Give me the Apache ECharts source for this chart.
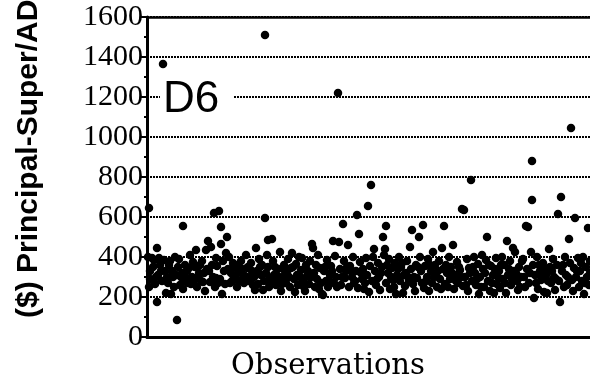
<!DOCTYPE html>
<html>
<head>
<meta charset="utf-8">
<script src="https://cdn.jsdelivr.net/npm/echarts@6/dist/echarts.min.js"></script>
<style>html,body{margin:0;padding:0;background:#fff}#c{width:590px;height:383px}</style>
</head>
<body>
<div id="c"></div>
<script>
// Y axis ticks
var yTicks = [0, 200, 400, 600, 800, 1000, 1200, 1400, 1600];
var obsX = [1,2,2,3,5,7,9,10,10,12,14,16,17,19,21,22,
24,26,28,29,30,31,33,34,36,36,38,39,40,
41,43,45,47,48,49,50,52,54,55,56,58,59,60,
61,63,64,65,67,69,69,71,72,74,74,75,77,79,80,
82,83,84,87,88,90,93,94,96,97,99,100,
101,103,104,106,108,109,110,112,113,114,116,117,118,118,120,121,121,123,124,
125,126,127,129,130,131,133,134,136,137,139,140,141,143,144,145,147,148,149,150,
151,152,154,155,156,158,159,160,162,163,165,166,167,168,170,171,173,174,175,
176,177,179,180,181,183,184,186,187,188,189,191,192,193,194,196,197,198,199,
201,202,203,205,206,207,209,210,211,212,213,215,216,217,219,220,221,222,223,224,225,
226,227,228,229,231,232,233,235,236,237,238,239,239,241,242,243,245,246,248,249,250,
252,253,254,256,257,258,260,261,263,264,265,266,268,269,270,272,273,274,275,
276,277,278,280,281,282,284,285,286,288,289,290,292,293,295,296,297,298,300,
302,303,304,306,307,308,310,311,313,315,316,317,318,320,321,322,324,325,
327,328,329,331,332,333,335,336,337,339,340,341,343,344,346,347,349,350,
352,353,355,356,357,359,360,361,363,364,366,367,368,370,371,372,374,
376,377,378,379,380,381,382,384,385,385,386,387,388,390,391,393,394,396,397,399,
400,402,403,404,406,407,408,410,411,412,413,414,415,417,418,419,420,422,423,424,425,
426,427,428,429,431,432,433,435,436,437,439,440,441,442,443];
var amount = [400,645,250,330,395,385,300,445,175,395,330,1365,385,220,270,360,
215,300,400,310,85,350,260,300,555,240,360,295,330,
270,410,300,285,350,435,250,320,280,380,275,230,435,340,
480,275,450,360,620,395,295,270,630,550,465,215,330,420,500,
400,270,320,300,350,250,325,380,290,270,410,345,
350,300,370,260,235,445,330,390,350,310,235,280,595,1510,410,485,350,295,265,
490,380,310,260,285,340,425,230,300,360,270,320,390,250,345,420,290,225,365,310,
260,400,335,395,280,230,360,305,265,380,465,445,320,250,290,410,345,270,215,
210,330,280,385,250,310,355,480,270,405,300,1220,475,340,260,565,380,295,330,
460,250,355,300,400,270,330,610,245,515,375,290,340,240,395,310,655,225,355,760,280,
400,440,330,260,370,300,235,350,500,410,440,555,270,320,390,240,345,285,370,215,310,
400,280,350,220,310,255,380,300,450,340,535,265,230,360,295,500,400,330,270,
560,245,355,300,390,230,330,270,425,360,305,250,380,290,445,340,555,265,320,
400,290,350,460,240,310,375,270,335,640,255,635,300,390,230,345,785,280,
400,320,260,365,215,300,410,340,250,385,500,280,230,355,310,220,395,265,
330,245,400,290,360,220,480,310,380,260,445,330,425,280,235,350,300,
390,300,250,555,340,550,270,425,880,685,360,195,310,400,240,330,285,370,225,310,
220,440,350,270,390,300,235,360,615,280,175,700,330,250,400,310,260,490,370,1045,285,
230,345,595,300,395,250,330,280,400,215,350,300,545,260,380];
// Further observations inside the dense 200-400 band
var obsXBand = [3,6,8,11,13,15,18,20,23,25,27,32,35,37,42,44,46,51,53,57,62,66,68,70,73,76,78,
81,85,86,89,91,92,95,98,102,105,107,111,115,119,122,128,132,135,138,142,146,153,157,161,164,
169,172,178,182,185,190,195,200,204,208,214,218,230,234,240,244,247,251,255,259,262,267,271,
279,283,287,291,294,299,301,305,309,312,314,319,323,326,330,334,338,342,345,348,351,354,358,
362,365,369,373,375,383,389,392,395,398,401,405,409,416,421,430,434,438,443];
var amountBand = [290,350,265,310,360,280,330,300,380,330,250,390,320,280,345,265,375,300,360,320,330,300,250,355,290,380,265,
340,280,370,310,360,280,340,305,280,330,300,265,360,320,250,350,300,265,330,300,350,300,250,330,300,
360,240,350,280,330,250,300,350,330,280,320,270,290,320,360,300,250,340,370,320,280,300,350,
280,360,300,330,240,360,250,320,280,350,300,260,320,350,290,250,320,360,270,340,300,360,270,
340,290,320,250,380,320,270,360,300,340,280,330,290,360,300,330,370,270,320];

var points = obsX.map(function (x, i) { return [x, amount[i]]; })
  .concat(obsXBand.map(function (x, i) { return [x, amountBand[i]]; }));

var chart = echarts.init(document.getElementById('c'), null, {renderer: 'canvas'});
var option = {
  animation: false,
  backgroundColor: '#fff',
  grid: {left: 147, top: 17, right: 0, bottom: 46},
  xAxis: [{
    type: 'value', min: 0, max: 443, position: 'bottom', z: 5,
    axisLine: {show: true, onZero: false, lineStyle: {color: '#000', width: 3}},
    axisTick: {show: false}, axisLabel: {show: false}, splitLine: {show: false}
  }, {
    type: 'value', min: 0, max: 443, position: 'top', z: 5,
    axisLine: {show: true, onZero: false, lineStyle: {color: '#000', width: 2.5}},
    axisTick: {show: false}, axisLabel: {show: false}, splitLine: {show: false}
  }],
  yAxis: {
    type: 'value', min: 0, max: 1600, interval: 200,
    axisLine: {show: true, lineStyle: {color: '#000', width: 3}},
    axisTick: {show: true, length: 6, lineStyle: {color: '#000', width: 2}},
    minorTick: {show: true, splitNumber: 2, length: 3, lineStyle: {color: '#000', width: 2}},
    axisLabel: {
      color: '#000', fontFamily: 'Liberation Serif', fontSize: 30, margin: 4,
      padding: [6, 0, 0, 0],
      formatter: function (v) { return yTicks.indexOf(v) >= 0 ? String(v) : ''; }
    },
    splitLine: {show: true, lineStyle: {color: '#000', width: 2, type: [2, 1]}}
  },
  series: [{
    type: 'scatter', data: points, symbol: 'circle', symbolSize: 8.5,
    itemStyle: {color: '#000', opacity: 1}, z: 3
  }],
  graphic: [
    {type: 'text', left: 160, top: 78, z: 10,
     style: {text: 'D6', fontFamily: 'Liberation Sans', fontSize: 44, fill: '#000',
             backgroundColor: '#fff', padding: [0, 14, 0, 3]}},
    {type: 'text', x: 328, y: 366, z: 10,
     style: {text: 'Observations', fontFamily: 'DejaVu Serif', fontSize: 29, fill: '#000',
             align: 'center', verticalAlign: 'middle'}},
    {type: 'text', x: 29, y: 318, rotation: Math.PI / 2, z: 10,
     style: {text: '($) Principal-Super/AD', fontFamily: 'Liberation Sans', fontWeight: 'bold',
             fontSize: 30, fill: '#000', align: 'left', verticalAlign: 'middle'}}
  ]
};
chart.setOption(option);
</script>
</body>
</html>
